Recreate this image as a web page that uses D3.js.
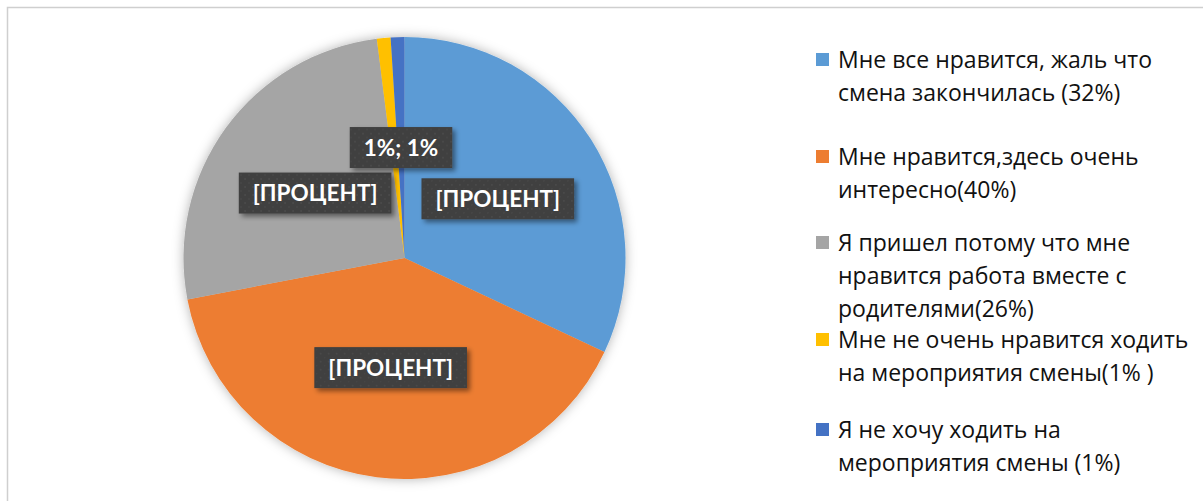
<!DOCTYPE html>
<html>
<head>
<meta charset="utf-8">
<script src="https://cdn.jsdelivr.net/npm/d3@7"></script>
<style>
  html, body { margin: 0; padding: 0; background: #fff; }
  svg { display: block; }
</style>
</head>
<body>
<svg id="chart" width="1203" height="501"></svg>
<script>
// ---- data ----
const categories = [
  "Мне все нравится, жаль что смена закончилась (32%)",
  "Мне нравится,здесь очень интересно(40%)",
  "Я пришел потому что мне нравится работа вместе с родителями(26%)",
  "Мне не очень нравится ходить на мероприятия смены(1% )",
  "Я не хочу ходить на мероприятия смены (1%)"
];
const legendLines = [
  ["Мне все нравится, жаль что", "смена закончилась (32%)"],
  ["Мне нравится,здесь очень", "интересно(40%)"],
  ["Я пришел потому что мне", "нравится работа вместе с", "родителями(26%)"],
  ["Мне не очень нравится ходить", "на мероприятия смены(1% )"],
  ["Я не хочу ходить на", "мероприятия смены (1%)"]
];
const values = [32, 40, 26, 1, 1];
const dataLabels = ["[ПРОЦЕНТ]", "[ПРОЦЕНТ]", "[ПРОЦЕНТ]", "", "1%; 1%"];
const colors = ["#5B9BD5", "#ED7D31", "#A5A5A5", "#FFC000", "#4472C4"];

// ---- layout ----
const W = 1203, H = 501;
const cx = 404.5, cy = 258, R = 221;
const svg = d3.select("#chart");
const defs = svg.append("defs");

const pieShadow = defs.append("filter").attr("id", "pieShadow")
  .attr("x", "-20%").attr("y", "-20%").attr("width", "140%").attr("height", "140%");
pieShadow.append("feDropShadow").attr("dx", 0).attr("dy", 0)
  .attr("stdDeviation", 6).attr("flood-color", "#000").attr("flood-opacity", 0.3);

const boxShadow = defs.append("filter").attr("id", "boxShadow")
  .attr("x", "-20%").attr("y", "-30%").attr("width", "150%").attr("height", "180%");
boxShadow.append("feDropShadow").attr("dx", 3).attr("dy", 3)
  .attr("stdDeviation", 2.5).attr("flood-color", "#000").attr("flood-opacity", 0.45);

const pat = defs.append("pattern").attr("id", "dots")
  .attr("patternUnits", "userSpaceOnUse").attr("width", 8).attr("height", 8);
pat.append("rect").attr("width", 8).attr("height", 8).attr("fill", "#3f3f3f");
pat.append("circle").attr("cx", 2).attr("cy", 2).attr("r", 1).attr("fill", "#4b4b4b");
pat.append("circle").attr("cx", 6).attr("cy", 6).attr("r", 1).attr("fill", "#474747");

// frame
svg.append("rect").attr("x", 7.5).attr("y", 7.5).attr("width", W + 20).attr("height", H + 20)
  .attr("fill", "#fff").attr("stroke", "#cfcfcf").attr("stroke-width", 1.5);

// pie
const pie = d3.pie().sort(null).value(d => d);
const arcs = pie(values);
const arc = d3.arc().innerRadius(0).outerRadius(R);
const labelArc = d3.arc().innerRadius(R * 0.5).outerRadius(R * 0.5);

const g = svg.append("g").attr("transform", `translate(${cx},${cy})`);
g.append("g").attr("filter", "url(#pieShadow)")
  .selectAll("path").data(arcs).join("path")
  .attr("d", arc)
  .attr("fill", (d, i) => colors[i]);

// data labels
const lblG = g.append("g");
arcs.forEach((d, i) => {
  const txt = dataLabels[i];
  if (!txt) return;
  const [x, y] = labelArc.centroid(d);
  const grp = lblG.append("g").attr("transform", `translate(${x},${y})`);
  const t = grp.append("text")
    .attr("text-anchor", "middle").attr("dy", "0.36em")
    .attr("font-family", "Lato, 'Open Sans', sans-serif")
    .attr("font-weight", "bold").attr("font-size", 22.5)
    .attr("fill", "#fff").text(txt);
  const bb = t.node().getBBox();
  const padX = 14, h = 41;
  grp.insert("rect", "text")
    .attr("x", -bb.width / 2 - padX).attr("y", -h / 2)
    .attr("width", bb.width + 2 * padX).attr("height", h)
    .attr("fill", "url(#dots)").attr("filter", "url(#boxShadow)");
});

// legend
const firstBaselines = [68, 165, 251, 348, 438];
const lineH = 33;
const leg = svg.append("g");
legendLines.forEach((lines, i) => {
  const by = firstBaselines[i];
  leg.append("rect").attr("x", 816).attr("y", by - 15).attr("width", 13).attr("height", 13)
    .attr("fill", colors[i]);
  const t = leg.append("text")
    .attr("font-family", "'Open Sans', Lato, sans-serif")
    .attr("font-size", 23).attr("fill", "#111");
  lines.forEach((ln, j) => {
    t.append("tspan").attr("x", 838).attr("y", by + j * lineH).text(ln);
  });
});
</script>
</body>
</html>
